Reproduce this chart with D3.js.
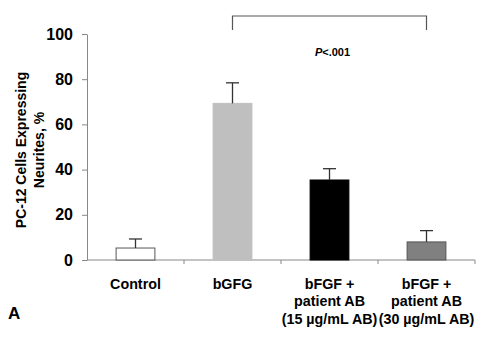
<!DOCTYPE html>
<html><head><meta charset="utf-8">
<script src="https://cdn.jsdelivr.net/npm/d3@7"></script>
<style>body{margin:0;background:#fff}text{font-family:Arial,"Liberation Sans",sans-serif}</style>
</head><body>
<svg id="c" width="498" height="339"></svg>
<script>
const categories = ["Control", "bGFG", "bFGF +|patient AB|(15 µg/mL AB)", "bFGF +|patient AB|(30 µg/mL AB)"];
const values = [5.3, 69.3, 35.4, 8];
const errors = [4, 9.1, 5, 5];
const colors = ["#ffffff", "#bfbfbf", "#000000", "#808080"];
const strokes = ["#555", "#bfbfbf", "#000", "#555"];
const yTicks = [0, 20, 40, 60, 80, 100];

const svg = d3.select("#c");
const x = d3.scaleBand().domain(categories).range([87, 475]).paddingInner(0.6).paddingOuter(0.3);
const xb = d3.scaleBand().domain(categories).range([87, 475]);
const y = d3.scaleLinear().domain([0, 100]).range([260, 34]);

// y axis
const ya = svg.append("g").attr("transform", "translate(87,0)")
  .call(d3.axisLeft(y).tickValues(yTicks).tickSize(5).tickSizeOuter(0).tickPadding(9));
ya.select(".domain").attr("stroke", "#888");
ya.selectAll(".tick line").attr("stroke", "#888");
ya.selectAll("text").attr("font-size", 16).attr("font-weight", "bold").attr("fill", "#000");

// x axis baseline
svg.append("line").attr("x1", 87).attr("x2", 475).attr("y1", y(0)).attr("y2", y(0)).attr("stroke", "#888");
svg.selectAll(".xt").data(categories).enter().append("line")
  .attr("x1", d => xb(d) + xb.bandwidth()).attr("x2", d => xb(d) + xb.bandwidth())
  .attr("y1", y(0)).attr("y2", y(0) + 4).attr("stroke", "#888");

// bars
svg.selectAll(".bar").data(categories).enter().append("rect")
  .attr("x", d => x(d)).attr("width", x.bandwidth())
  .attr("y", (d, i) => y(values[i])).attr("height", (d, i) => y(0) - y(values[i]))
  .attr("fill", (d, i) => colors[i]).attr("stroke", (d, i) => strokes[i]).attr("stroke-width", 1);

// error bars
const eb = svg.selectAll(".eb").data(categories).enter().append("g");
eb.append("line").attr("x1", d => x(d) + x.bandwidth() / 2).attr("x2", d => x(d) + x.bandwidth() / 2)
  .attr("y1", (d, i) => y(values[i])).attr("y2", (d, i) => y(values[i] + errors[i]))
  .attr("stroke", "#333").attr("stroke-width", 1.3);
eb.append("line").attr("x1", d => x(d) + x.bandwidth() / 2 - 6.5).attr("x2", d => x(d) + x.bandwidth() / 2 + 6.5)
  .attr("y1", (d, i) => y(values[i] + errors[i])).attr("y2", (d, i) => y(values[i] + errors[i]))
  .attr("stroke", "#333").attr("stroke-width", 1.3);

// x labels
categories.forEach(c => {
  const lines = c.split("|");
  const t = svg.append("text").attr("text-anchor", "middle").attr("font-size", 14.3).attr("font-weight", "bold");
  lines.forEach((l, j) => t.append("tspan").attr("x", xb(c) + xb.bandwidth() / 2).attr("y", 288.5 + j * 17.5).text(l));
});

// y title
const yt = svg.append("text").attr("transform", "translate(0,150) rotate(-90)")
  .attr("text-anchor", "middle").attr("font-size", 14).attr("font-weight", "bold");
yt.append("tspan").attr("x", 0).attr("y", 26).text("PC-12 Cells Expressing");
yt.append("tspan").attr("x", 0).attr("y", 44).text("Neurites, %");

// bracket
const b1 = xb(categories[1]) + xb.bandwidth() / 2, b2 = xb(categories[3]) + xb.bandwidth() / 2;
svg.append("path").attr("d", `M${b1},30V16H${b2}V30`).attr("fill", "none").attr("stroke", "#555").attr("stroke-width", 1.2);
const pt = svg.append("text").attr("x", (b1 + b2) / 2 + 3).attr("y", 56).attr("text-anchor", "middle")
  .attr("font-size", 11).attr("font-weight", "bold");
pt.append("tspan").attr("font-style", "italic").text("P");
pt.append("tspan").text("<.001");

// panel letter
svg.append("text").attr("x", 8).attr("y", 319).attr("font-size", 17).attr("font-weight", "bold").text("A");
</script>
</body></html>
